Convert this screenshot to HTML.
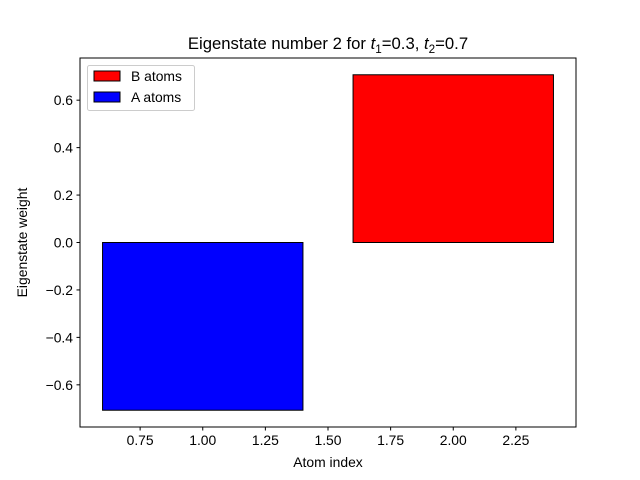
<!DOCTYPE html>
<html><head><meta charset="utf-8"><style>
html,body{margin:0;padding:0;background:#fff;}
svg{display:block;font-family:"Liberation Sans","DejaVu Sans",sans-serif;}
</style></head><body>
<svg id="chart" width="640" height="480" xmlns="http://www.w3.org/2000/svg">
<rect width="640" height="480" fill="#fff"/>
<text x="328" y="49" text-anchor="middle" font-size="16.7">Eigenstate number 2 for <tspan font-style="italic">t</tspan><tspan font-size="11.7" dy="4">1</tspan><tspan dy="-4">=0.3, </tspan><tspan font-style="italic">t</tspan><tspan font-size="11.7" dy="4">2</tspan><tspan dy="-4">=0.7</tspan></text>
<g id="bars"></g>
<rect x="80" y="58" width="496" height="369" fill="none" stroke="#000" stroke-width="1"/>
<g id="xticks"></g><g id="yticks"></g>
<text x="328" y="467" text-anchor="middle" font-size="13.9">Atom index</text>
<text transform="translate(27,242.5) rotate(-90)" text-anchor="middle" font-size="13.9">Eigenstate weight</text>
<g>
<rect x="87.5" y="65.5" width="107" height="45" rx="2" fill="#fff" fill-opacity="0.8" stroke="#ccc"/>
<g><rect x="94" y="71" width="26" height="10" fill="#f00" stroke="#000"/><text x="131" y="81" font-size="13.9">B atoms</text></g>
<g><rect x="94" y="92" width="26" height="10" fill="#00f" stroke="#000"/><text x="131" y="102" font-size="13.9">A atoms</text></g>
</g>
</svg>
<script>
const categories = [1, 2];
const values = [-0.7071, 0.7071];
const colors = ["#0000ff", "#ff0000"];
const barNames = ["bar-a-atoms", "bar-b-atoms"];
const xTicks = [0.75, 1.00, 1.25, 1.50, 1.75, 2.00, 2.25];
const yTicks = [-0.6, -0.4, -0.2, 0.0, 0.2, 0.4, 0.6];
const barWidth = 0.8;

const NS = "http://www.w3.org/2000/svg";
const X0 = 80, X1 = 576, Y0 = 427, Y1 = 58;
const minV = Math.min(0, ...values), maxV = Math.max(0, ...values);
const yPad = (maxV - minV) * 0.05;
const yMin = minV - yPad, yMax = maxV + yPad;
const xLo = Math.min(...categories) - barWidth / 2, xHi = Math.max(...categories) + barWidth / 2;
const xPad = (xHi - xLo) * 0.05;
const xMin = xLo - xPad, xMax = xHi + xPad;
const xs = v => X0 + (v - xMin) / (xMax - xMin) * (X1 - X0);
const ys = v => Y0 - (v - yMin) / (yMax - yMin) * (Y0 - Y1);

const bars = document.getElementById('bars');
categories.forEach((c, i) => {
  const r = document.createElementNS(NS, 'rect');
  const xa = xs(c - barWidth / 2), xb = xs(c + barWidth / 2);
  const ya = ys(Math.max(0, values[i])), yb = ys(Math.min(0, values[i]));
  r.setAttribute('x', xa); r.setAttribute('y', ya);
  r.setAttribute('width', xb - xa); r.setAttribute('height', yb - ya);
  r.setAttribute('fill', colors[i]); r.setAttribute('stroke', '#000');
  
  
  bars.appendChild(r);
});

const xg = document.getElementById('xticks');
xTicks.forEach(t => {
  const x = xs(t);
  const l = document.createElementNS(NS, 'line');
  l.setAttribute('x1', x); l.setAttribute('x2', x); l.setAttribute('y1', Y0); l.setAttribute('y2', Y0 + 3.5);
  l.setAttribute('stroke', '#000');
  
  
  xg.appendChild(l);
  const tx = document.createElementNS(NS, 'text');
  tx.setAttribute('x', x); tx.setAttribute('y', Y0 + 18); tx.setAttribute('text-anchor', 'middle'); tx.setAttribute('font-size', '13.9');
  tx.textContent = t.toFixed(2);
  
  
  xg.appendChild(tx);
});
const yg = document.getElementById('yticks');
yTicks.forEach(t => {
  const y = ys(t);
  const l = document.createElementNS(NS, 'line');
  l.setAttribute('x1', X0 - 3.5); l.setAttribute('x2', X0); l.setAttribute('y1', y); l.setAttribute('y2', y);
  l.setAttribute('stroke', '#000');
  
  
  yg.appendChild(l);
  const tx = document.createElementNS(NS, 'text');
  tx.setAttribute('x', X0 - 7); tx.setAttribute('y', y + 5); tx.setAttribute('text-anchor', 'end'); tx.setAttribute('font-size', '13.9');
  tx.textContent = (t < 0 ? '\u2212' : '') + Math.abs(t).toFixed(1);
  
  
  yg.appendChild(tx);
});
</script>
</body></html>
